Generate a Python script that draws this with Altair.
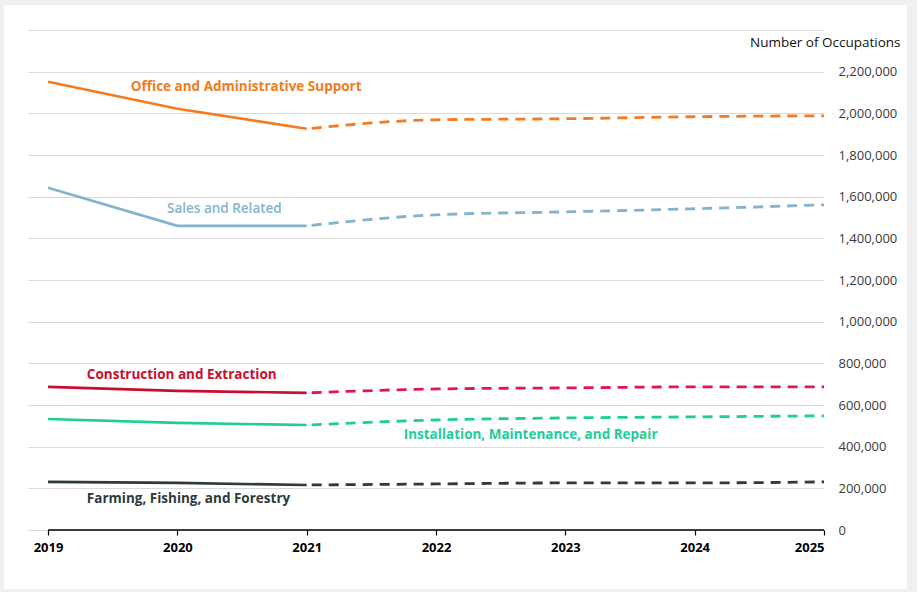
import altair as alt
import pandas as pd

years = [2019, 2020, 2021, 2022, 2023, 2024, 2025]
last_actual = 2021

series_names = [
    "Office and Administrative Support",
    "Sales and Related",
    "Construction and Extraction",
    "Installation, Maintenance, and Repair",
    "Farming, Fishing, and Forestry",
]
office = [2152000, 2022000, 1926000, 1969000, 1974000, 1984000, 1988000]
sales = [1643000, 1460000, 1460000, 1513000, 1527000, 1542000, 1561000]
construction = [687000, 668000, 658000, 677000, 682000, 687000, 687000]
installation = [533000, 514000, 504000, 528000, 538000, 543000, 548000]
farming = [231000, 226000, 216000, 221000, 226000, 226000, 231000]
values = [office, sales, construction, installation, farming]

solid_colors = ["#f47b20", "#84b4cb", "#c8102e", "#1fcc9a", "#2f3a3a"]
dash_colors = ["#f47b20", "#84b4cb", "#e0184f", "#1fcc9a", "#2f3a3a"]

# label anchors (year, value) for the series annotations
label_x = [2019.64, 2019.92, 2019.30, 2021.75, 2019.30]
label_y = [2128000, 1542000, 744500, 456000, 149000]

y_ticks = [0, 200000, 400000, 600000, 800000, 1000000, 1200000,
           1400000, 1600000, 1800000, 2000000, 2200000, 2400000]

rows = []
for name, vals in zip(series_names, values):
    for yr, v in zip(years, vals):
        if yr <= last_actual:
            rows.append({"series": name, "key": name, "seg": "actual", "year": yr, "value": v})
        if yr >= last_actual:
            rows.append({"series": name, "key": name + " (proj)", "seg": "proj", "year": yr, "value": v})
df = pd.DataFrame(rows)

labels = pd.DataFrame({"key": series_names, "text": series_names, "year": label_x, "value": label_y})

keys = series_names + [n + " (proj)" for n in series_names]
color_scale = alt.Scale(domain=keys, range=solid_colors + dash_colors)

FONT = "Open Sans"
x_scale = alt.Scale(domain=[2018.845, 2025], nice=False, zero=False)
y_scale = alt.Scale(domain=[0, 2400000], nice=False)

x_axis = alt.Axis(
    values=years, format="d", title=None, grid=False, domain=False,
    ticks=True, tickSize=5, tickColor="#000000", tickWidth=1.2,
    labelFont=FONT, labelFontSize=13, labelFontWeight="bold", labelColor="#000000",
    labelPadding=6)
y_axis = alt.Axis(
    orient="right", values=y_ticks, domain=False, ticks=False,
    grid=True, gridColor="#d9d9d9", gridWidth=1,
    labelFont=FONT, labelFontSize=13, labelColor="#3a3a3a", labelPadding=14,
    labelAlign="left",
    labelExpr="datum.value >= 2400000 ? '' : format(datum.value, ',')",
    title="Number of Occupations", titleAngle=0, titleAlign="right",
    titleBaseline="middle", titleX=76, titleY=12, titleFont=FONT,
    titleFontSize=13.5, titleFontWeight="normal", titleColor="#111111")

base = alt.Chart(df)

actual = base.transform_filter(alt.datum.seg == "actual").mark_line(strokeWidth=2.6).encode(
    x=alt.X("year:Q", scale=x_scale, axis=x_axis),
    y=alt.Y("value:Q", scale=y_scale, axis=y_axis),
    color=alt.Color("key:N", scale=color_scale, legend=None),
    detail="key:N")

proj = base.transform_filter(alt.datum.seg == "proj").mark_line(
    strokeWidth=2.8, strokeDash=[10, 7], strokeDashOffset=-5, interpolate="monotone").encode(
    x=alt.X("year:Q", scale=x_scale, axis=x_axis),
    y=alt.Y("value:Q", scale=y_scale, axis=y_axis),
    color=alt.Color("key:N", scale=color_scale, legend=None),
    detail="key:N")

axis_line = alt.Chart(pd.DataFrame({"a": [0]})).mark_rule(color="#000000", strokeWidth=1.5).encode(
    x=alt.datum(years[0], scale=x_scale), x2=alt.datum(years[-1]), y=alt.datum(0, scale=y_scale))

text_base = alt.Chart(labels).encode(
    x=alt.X("year:Q", scale=x_scale),
    y=alt.Y("value:Q", scale=y_scale),
    text="text:N",
    color=alt.Color("key:N", scale=color_scale, legend=None))

text_bold = text_base.transform_filter(alt.datum.key != series_names[1]).mark_text(
    align="left", baseline="middle", font=FONT, fontSize=13.5, fontWeight="bold")
text_reg = text_base.transform_filter(alt.datum.key == series_names[1]).mark_text(
    align="left", baseline="middle", font=FONT, fontSize=13.5, fontWeight=600)

# light gray frame around the white card
frame = alt.Chart(pd.DataFrame({"a": [0]})).mark_rect(
    fill=None, stroke="#f0f0f0", strokeWidth=10).encode(
    x=alt.value(-29), x2=alt.value(884), y=alt.value(-30), y2=alt.value(564))

chart = alt.layer(actual, proj, axis_line, text_bold, text_reg, frame).properties(
    width=796, height=500,
    autosize=alt.AutoSizeParams(type="none"),
    padding={"left": 28, "top": 30, "right": 93, "bottom": 62},
    background="white",
).configure_view(stroke=None)

chart.save("out.html", embed_options={"renderer": "svg", "actions": False})
